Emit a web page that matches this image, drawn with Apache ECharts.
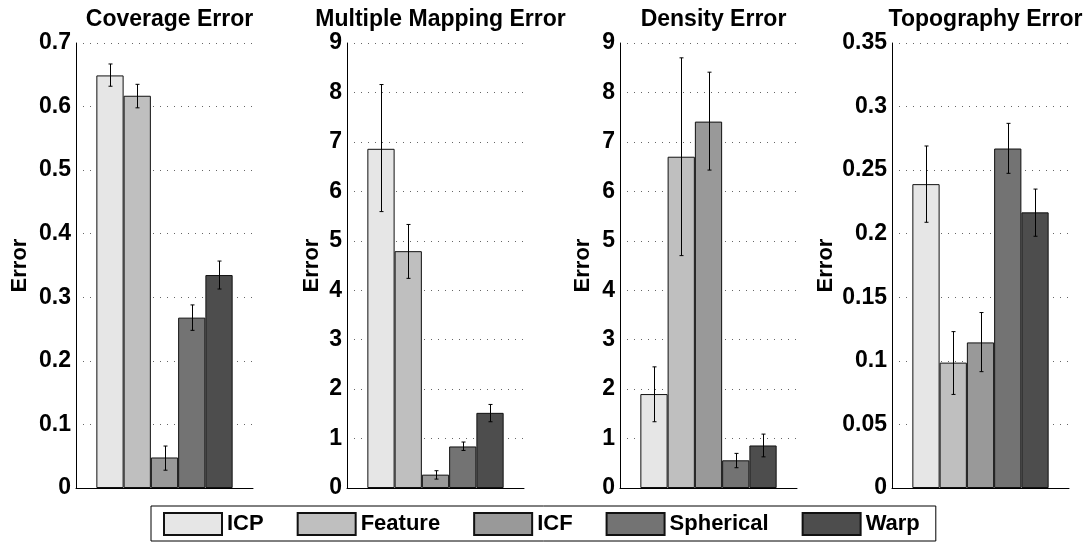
<!DOCTYPE html>
<html>
<head>
<meta charset="utf-8">
<script src="https://cdn.jsdelivr.net/npm/echarts@6/dist/echarts.min.js"></script>
<style>html,body{margin:0;padding:0;background:#fff;}#c{width:1085px;height:542px;}</style>
</head>
<body>
<div id="c"></div>
<script>
const methods = ['ICP', 'Feature', 'ICF', 'Spherical', 'Warp'];
const colors = ['#e6e6e6', '#bfbfbf', '#999999', '#737373', '#4d4d4d'];
const panelTitles = ['Coverage Error', 'Multiple Mapping Error', 'Density Error', 'Topography Error'];
const yMax = [0.7, 9, 9, 0.35];
const yStep = [0.1, 1, 1, 0.05];

const coverageMean = [0.649, 0.617, 0.048, 0.268, 0.335];
const coverageLow  = [0.632, 0.598, 0.028, 0.248, 0.313];
const coverageHigh = [0.667, 0.635, 0.066, 0.288, 0.357];

const mappingMean = [6.86, 4.79, 0.27, 0.84, 1.52];
const mappingLow  = [5.59, 4.24, 0.18, 0.76, 1.34];
const mappingHigh = [8.16, 5.33, 0.35, 0.93, 1.69];

const densityMean = [1.90, 6.70, 7.41, 0.56, 0.86];
const densityLow  = [1.34, 4.70, 6.43, 0.41, 0.63];
const densityHigh = [2.45, 8.70, 8.41, 0.70, 1.09];

const topoMean = [0.239, 0.0986, 0.1145, 0.267, 0.2168];
const topoLow  = [0.209, 0.0736, 0.0915, 0.2475, 0.198];
const topoHigh = [0.269, 0.123, 0.138, 0.2868, 0.2351];

const means = [coverageMean, mappingMean, densityMean, topoMean];
const lows = [coverageLow, mappingLow, densityLow, topoLow];
const highs = [coverageHigh, mappingHigh, densityHigh, topoHigh];

const FONT = '"Liberation Sans", Arial, Helvetica, sans-serif';
const gridLeft = [76, 347, 620, 892];
const gridW = 177;
const CAT_GAP = 0.23;
const nameGaps = [45, 24, 26, 55];

const grids = [], xAxes = [], yAxes = [], titles = [], series = [];
for (let p = 0; p < 4; p++) {
  grids.push({ left: gridLeft[p], top: 43, width: gridW, height: 445 });
  titles.push({
    text: panelTitles[p], left: gridLeft[p] + gridW / 2, top: 3, textAlign: 'center',
    textStyle: { fontFamily: FONT, fontWeight: 'bold', fontSize: 23, color: '#000' }
  });
  xAxes.push({
    type: 'category', gridIndex: p, data: [''],
    axisLine: { show: true, lineStyle: { color: '#000', width: 1 } },
    axisTick: { show: false }, axisLabel: { show: false }, splitLine: { show: false }
  });
  yAxes.push({
    type: 'value', gridIndex: p, min: 0, max: yMax[p], interval: yStep[p],
    name: 'Error', nameLocation: 'middle', nameGap: nameGaps[p],
    nameTextStyle: { fontFamily: FONT, fontWeight: 'bold', fontSize: 22, color: '#000' },
    axisLine: { show: true, lineStyle: { color: '#000', width: 1 } },
    axisTick: { show: false },
    axisLabel: { fontFamily: FONT, fontWeight: 'bold', fontSize: 23, color: '#000', margin: 5 },
    splitLine: { show: true, lineStyle: { color: '#666', width: 1, type: [1, 6] } }
  });
  for (let i = 0; i < 5; i++) {
    series.push({
      name: methods[i], type: 'bar', xAxisIndex: p, yAxisIndex: p,
      data: [means[p][i]], barGap: '0%', barCategoryGap: (CAT_GAP * 100) + '%',
      itemStyle: { color: colors[i], borderColor: '#111', borderWidth: 1 },
      emphasis: { disabled: true }, animation: false
    });
  }
  const errData = methods.map((m, i) => [0, lows[p][i], highs[p][i], i]);
  series.push({
    type: 'custom', xAxisIndex: p, yAxisIndex: p, data: errData, z: 10, animation: false,
    renderItem: function (params, api) {
      const lo = api.coord([0, api.value(1)]);
      const hi = api.coord([0, api.value(2)]);
      const idx = api.value(3);
      const band = api.size([1, 0])[0];
      const groupW = band * (1 - CAT_GAP);
      const barW = groupW / 5;
      const x = Math.round(lo[0] - groupW / 2 + barW * (idx + 0.5)) + 0.5;
      const cap = 2;
      const st = { stroke: '#000', lineWidth: 1 };
      return {
        type: 'group', children: [
          { type: 'line', shape: { x1: x, y1: lo[1], x2: x, y2: hi[1] }, style: st },
          { type: 'line', shape: { x1: x - cap, y1: lo[1], x2: x + cap, y2: lo[1] }, style: st },
          { type: 'line', shape: { x1: x - cap, y1: hi[1], x2: x + cap, y2: hi[1] }, style: st }
        ]
      };
    }
  });
}

const chart = echarts.init(document.getElementById('c'), null, { renderer: 'canvas' });
chart.setOption({
  animation: false,
  backgroundColor: '#fff',
  title: titles,
  grid: grids,
  xAxis: xAxes,
  yAxis: yAxes,
  legend: {
    data: methods, left: 151, bottom: 1, orient: 'horizontal',
    itemWidth: 58, itemHeight: 22, itemGap: 33, icon: 'rect',
    borderColor: '#000', borderWidth: 1, borderRadius: 0, padding: [6, 16, 5, 12],
    selectedMode: false,
    textStyle: { fontFamily: FONT, fontWeight: 'bold', fontSize: 22, color: '#000' }
  },
  series: series
});
</script>
</body>
</html>
